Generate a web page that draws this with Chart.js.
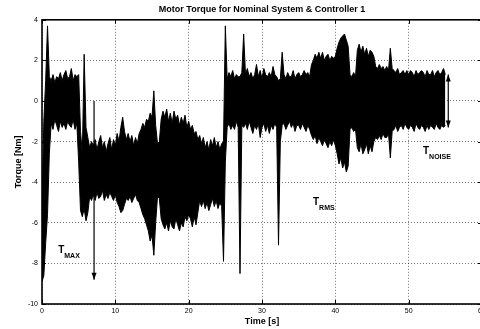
<!DOCTYPE html>
<html>
<head>
<meta charset="utf-8">
<title>Motor Torque</title>
<script src="https://cdn.jsdelivr.net/npm/chart.js@4/dist/chart.umd.min.js"></script>
<style>
    html, body { margin: 0; padding: 0; background: #fff; overflow: hidden; }
    #wrap { width: 484px; height: 329px; }
</style>
</head>
<body>
<div id="wrap"><canvas id="torque-chart" width="484" height="329"></canvas></div>
<script>
(function () {
    'use strict';

    const sampleStep = 0.25;   // seconds between readings

    const torqueHigh = [
        -5.0, -1.0,  1.0,  3.7,   1.2,  1.0,  1.3,  0.9,   1.2,  1.1,  1.4,  1.0,   1.3,  1.5,  1.1,  1.2,
         1.6,  1.0,  1.3,  1.2,   1.3, -1.5, -2.6,  2.3,  -1.3, -1.8, -2.3, -2.0,  -2.2, -1.9, -2.4, -2.0,
        -1.7, -2.3, -2.0, -2.5,  -2.1, -1.8, -2.4, -1.9,  -2.2, -1.6, -2.0, -1.3,  -0.8, -1.5, -1.9, -1.6,
        -2.0, -1.7, -2.2, -1.8,  -2.1, -1.6, -1.4, -1.1,  -1.3, -0.9, -1.0, -0.6,  -0.8,  0.5, -1.2, -2.1,
        -2.0, -0.9, -0.5, -0.8,  -0.4, -1.0, -0.6, -1.1,  -0.5, -0.9, -0.7, -1.2,  -0.8, -1.1, -0.7, -1.3,
        -1.0, -1.4, -1.2, -1.6,  -1.5, -1.9, -1.7, -2.1,  -1.8, -2.3, -2.0, -2.4,  -1.9, -2.2, -1.8, -2.3,
        -2.0, -2.4, -2.1, -2.0,   3.7,  1.1,  1.4,  1.2,   1.5,  1.1,  1.3,  1.2,   1.2,  1.4,  3.3,  1.3,
         1.6,  1.2,  1.4,  1.1,   1.3,  1.8,  1.2,  1.5,   1.1,  1.6,  1.3,  1.2,   1.4,  1.2,  1.7,  1.3,
         1.2,  1.0,  1.1,  2.4,   1.3,  1.1,  1.4,  1.2,   1.2,  1.5,  1.1,  1.3,   1.4,  1.2,  1.3,  1.5,
         1.3,  1.4,  1.2,  1.8,   2.0,  2.3,  2.1,  2.4,   2.1,  2.4,  2.0,  2.2,   2.3,  2.0,  2.2,  2.1,
         2.2,  2.6,  2.9,  3.1,   3.2,  3.3,  3.0,  2.7,   1.3,  1.2,  1.4,  1.2,   2.5,  2.8,  2.4,  2.7,
         2.3,  2.6,  2.2,  2.5,   2.4,  2.2,  1.7,  1.6,   1.8,  1.6,  1.7,  1.5,   1.7,  1.5,  2.6,  1.6,
         1.5,  1.4,  1.6,  1.3,   1.4,  1.5,  1.3,  1.5,   1.3,  1.5,  1.4,  1.2,   1.5,  1.3,  1.4,  1.5,
         1.4,  1.2,  1.5,  1.3,   1.3,  1.5,  1.2,  1.4,   1.5,  1.3,  1.4,  1.6,   1.3
    ];

    const torqueLow = [
        -8.9, -8.6, -7.0, -5.6,  -2.6, -1.1, -1.4, -0.9,  -1.2, -1.5, -1.0, -1.3,  -1.1, -1.4, -1.0, -1.2,
        -1.3, -0.9, -1.4, -1.1,  -3.0, -5.4, -5.7, -5.3,  -5.9, -5.5, -4.7, -4.9,  -4.6, -4.9, -4.5, -4.8,
        -4.7, -4.4, -4.9, -4.6,  -4.8, -4.5, -4.7, -4.9,  -4.6, -5.0, -5.2, -5.5,  -5.4, -5.1, -4.8, -4.9,
        -4.7, -5.0, -4.8, -4.6,  -4.9, -5.0, -5.3, -5.6,  -5.8, -6.1, -6.4, -6.9,  -6.6, -7.6, -6.0, -4.7,
        -4.8, -5.8, -6.1, -6.3,  -6.0, -6.4, -5.9, -6.2,  -6.3, -5.8, -6.1, -6.4,  -6.0, -6.2, -5.7, -5.9,
        -5.6, -5.8, -6.2, -5.7,  -6.1, -5.5, -4.9, -5.2,  -4.9, -5.3, -5.0, -5.4,  -5.1, -4.8, -5.2, -4.9,
        -5.3, -5.0, -5.2, -7.9,  -3.0, -1.3, -1.1, -1.4,  -1.2, -1.4, -1.0, -1.3,  -8.5, -1.2, -1.3, -1.1,
        -1.4, -1.0, -1.3, -1.6,  -1.2, -1.4, -1.1, -1.8,  -1.3, -1.1, -1.5, -1.2,  -1.6, -1.2, -1.4, -1.1,
        -1.3, -7.1, -2.0, -1.2,  -1.1, -1.4, -1.2, -1.0,  -1.3, -1.1, -1.5, -1.2,  -1.2, -1.4, -1.1, -1.3,
        -1.5, -1.2, -1.4, -1.7,  -1.9, -1.7, -2.1, -1.8,  -2.0, -2.2, -1.9, -2.1,  -2.3, -2.0, -2.2, -1.9,
        -2.2, -2.6, -3.1, -2.8,  -3.3, -3.0, -3.5, -3.2,  -1.4, -1.3, -1.5, -1.4,  -2.3, -2.5, -2.1, -2.6,
        -2.4, -2.1, -2.6, -2.2,  -2.5, -2.0, -1.8, -1.9,  -1.7, -1.9, -1.6, -1.8,  -1.8, -1.6, -2.8, -1.5,
        -1.4, -1.2, -1.5, -1.3,  -1.2, -1.4, -1.1, -1.3,  -1.4, -1.2, -1.3, -1.5,  -1.1, -1.3, -1.4, -1.2,
        -1.3, -1.5, -1.2, -1.4,  -1.2, -1.3, -1.4, -1.1,  -1.3, -1.4, -1.2, -1.3,  -1.2
    ];

    const xTicksStep = 10;    // Time [s]
    const yTicksStep = 2;     // Torque [Nm]

    // text notes (T + subscript) and arrows, in data coordinates
    const textNotes = [
        { main: 'T', sub: 'MAX',   x: 2.2,  y: -7.5 },
        { main: 'T', sub: 'RMS',   x: 36.95, y: -5.12 },
        { main: 'T', sub: 'NOISE', x: 51.95, y: -2.61 }
    ];
    const arrowNotes = [
        { x: 7.1,  from: 0,   to: -8.8, both: false },
        { x: 55.4, from: 1.3, to: -1.3, both: true }
    ];

    // upper and lower envelope as {x, y}; band between them is filled solid
    const highPoints = torqueHigh.map(function (v, i) { return { x: i * sampleStep, y: v }; });
    const lowPoints = torqueLow.map(function (v, i) { return { x: i * sampleStep, y: v }; });

    const FONT = "'Liberation Sans', Arial, Helvetica, sans-serif";

    // ── frame + inward tick marks (MATLAB box style) ──
    const framePlugin = {
        id: 'frame',
        afterDatasetsDraw: function (chart) {
            const ctx = chart.ctx;
            const a = chart.chartArea;
            const xs = chart.scales.x, ys = chart.scales.y;
            ctx.save();
            ctx.strokeStyle = '#000';
            ctx.lineWidth = 1;
            xs.ticks.forEach(function (tk) {
                const px = Math.round(xs.getPixelForValue(tk.value)) + 0.5;
                ctx.beginPath();
                ctx.moveTo(px, a.bottom); ctx.lineTo(px, a.bottom - 4);
                ctx.moveTo(px, a.top); ctx.lineTo(px, a.top + 4);
                ctx.stroke();
            });
            ys.ticks.forEach(function (tk) {
                const py = Math.round(ys.getPixelForValue(tk.value)) + 0.5;
                ctx.beginPath();
                ctx.moveTo(a.left, py); ctx.lineTo(a.left + 4, py);
                ctx.moveTo(a.right, py); ctx.lineTo(a.right - 4, py);
                ctx.stroke();
            });
            ctx.lineWidth = 1.6;
            ctx.strokeRect(a.left, a.top, a.right - a.left, a.bottom - a.top);
            ctx.restore();
        }
    };

    // ── annotation arrows and T-labels ──
    function arrowHead(ctx, x, y, dir) {
        ctx.beginPath();
        ctx.moveTo(x, y);
        ctx.lineTo(x - 2.5, y - dir * 7);
        ctx.lineTo(x + 2.5, y - dir * 7);
        ctx.closePath();
        ctx.fill();
    }

    const notesPlugin = {
        id: 'notes',
        afterDatasetsDraw: function (chart) {
            const ctx = chart.ctx;
            const xs = chart.scales.x, ys = chart.scales.y;
            ctx.save();
            ctx.strokeStyle = '#000';
            ctx.fillStyle = '#000';
            ctx.lineWidth = 1.2;
            arrowNotes.forEach(function (n) {
                const px = xs.getPixelForValue(n.x);
                const y0 = ys.getPixelForValue(n.from);
                const y1 = ys.getPixelForValue(n.to);
                ctx.beginPath();
                ctx.moveTo(px, y0); ctx.lineTo(px, y1);
                ctx.stroke();
                arrowHead(ctx, px, y1, 1);
                if (n.both) arrowHead(ctx, px, y0, -1);
            });
            ctx.textBaseline = 'alphabetic';
            ctx.textAlign = 'left';
            textNotes.forEach(function (n) {
                const px = xs.getPixelForValue(n.x);
                const py = ys.getPixelForValue(n.y);
                ctx.font = 'bold 10px ' + FONT;
                ctx.fillText(n.main, px, py);
                const w = ctx.measureText(n.main).width;
                ctx.font = 'bold 7px ' + FONT;
                ctx.fillText(n.sub, px + w, py + 5);
            });
            ctx.restore();
        }
    };

    const gridStyle = {
        color: 'rgba(0, 0, 0, 0.55)',
        lineWidth: 1,
        drawTicks: false
    };

    new Chart(document.getElementById('torque-chart'), {
        type: 'line',
        data: {
            datasets: [{
                label: 'Torque upper',
                data: highPoints,
                borderColor: '#000',
                borderWidth: 1,
                pointRadius: 0,
                tension: 0,
                fill: false
            }, {
                label: 'Torque lower',
                data: lowPoints,
                borderColor: '#000',
                backgroundColor: '#000',
                borderWidth: 1,
                pointRadius: 0,
                tension: 0,
                fill: '-1'
            }]
        },
        options: {
            responsive: false,
            animation: false,
            devicePixelRatio: 1,
            layout: { padding: { top: 0, right: 2, bottom: 0, left: 0 } },
            plugins: {
                legend: { display: false },
                tooltip: { enabled: false },
                title: {
                    display: true,
                    text: 'Motor Torque for Nominal System & Controller 1',
                    color: '#000',
                    fullSize: false,
                    font: { family: FONT, size: 9, weight: 'bold' },
                    padding: { top: 4, bottom: 5 }
                }
            },
            scales: {
                x: {
                    type: 'linear',
                    min: 0,
                    max: 60,
                    ticks: {
                        stepSize: xTicksStep,
                        color: '#000',
                        padding: 3,
                        maxRotation: 0,
                        font: { family: FONT, size: 7 }
                    },
                    grid: gridStyle,
                    border: { display: false, dash: [1, 2] },
                    title: {
                        display: true,
                        text: 'Time [s]',
                        color: '#000',
                        font: { family: FONT, size: 9, weight: 'bold' },
                        padding: { top: 0, bottom: 2 }
                    },
                    afterFit: function (s) {
                        s.height = 25;
                        s.paddingLeft = 0;
                        s.paddingRight = 0;
                    }
                },
                y: {
                    min: -10,
                    max: 4,
                    ticks: {
                        stepSize: yTicksStep,
                        color: '#000',
                        padding: 4,
                        font: { family: FONT, size: 7 }
                    },
                    grid: gridStyle,
                    border: { display: false, dash: [1, 2] },
                    title: {
                        display: true,
                        text: 'Torque [Nm]',
                        color: '#000',
                        font: { family: FONT, size: 9, weight: 'bold' },
                        padding: { top: 13, bottom: 0 }
                    },
                    afterFit: function (s) {
                        s.width = 42;
                        s.paddingTop = 0;
                        s.paddingBottom = 0;
                    }
                }
            }
        },
        plugins: [framePlugin, notesPlugin]
    });
})();
</script>
</body>
</html>
